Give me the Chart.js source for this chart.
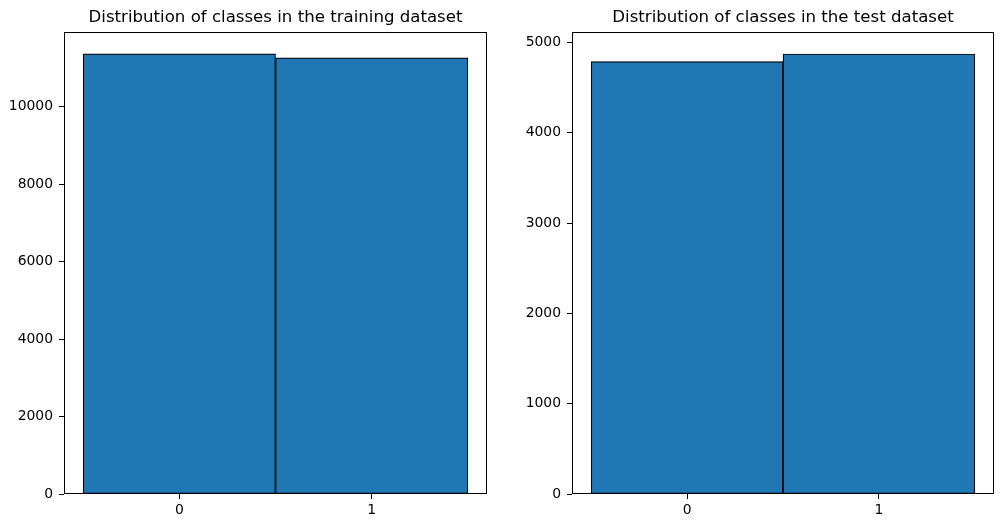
<!DOCTYPE html>
<html>
<head>
<meta charset="utf-8">
<script src="https://cdn.jsdelivr.net/npm/chart.js@4/dist/chart.umd.min.js"></script>
<style>
html,body{margin:0;padding:0;background:#fff;}
#wrap{position:relative;width:1003px;height:528px;}
canvas{position:absolute;top:0;}
</style>
</head>
<body>
<div id="wrap">
<canvas id="c1" width="500" height="528" style="left:0px"></canvas>
<canvas id="c2" width="503" height="528" style="left:500px"></canvas>
</div>
<script>
// Data
const classLabels = [0, 1];
const trainCounts = [11362, 11258];
const testCounts = [4787, 4872];
const trainTicks = [0, 2000, 4000, 6000, 8000, 10000];
const testTicks = [0, 1000, 2000, 3000, 4000, 5000];
const trainTitle = 'Distribution of classes in the training dataset';
const testTitle = 'Distribution of classes in the test dataset';

const FONT = "'DejaVu Sans', sans-serif";

const frame = {
  id: 'frame',
  afterDatasetsDraw(chart) {
    const a = chart.chartArea, ctx = chart.ctx;
    ctx.save();
    ctx.strokeStyle = '#000';
    ctx.lineWidth = 1;
    ctx.strokeRect(Math.round(a.left) + 0.5, Math.round(a.top) + 0.5,
      Math.round(a.right - a.left) - 1, Math.round(a.bottom - a.top) - 1);
    ctx.restore();
  }
};

function makeChart(id, counts, yTicks, yMax, title, yWidth, padRight) {
  return new Chart(document.getElementById(id), {
    type: 'bar',
    data: {
      datasets: [{
        data: classLabels.map((c, i) => ({x: c, y: counts[i]})),
        backgroundColor: '#1f77b4',
        borderColor: '#000',
        borderWidth: 1.2,
        borderSkipped: false,
        barPercentage: 1,
        categoryPercentage: 1
      }]
    },
    options: {
      responsive: false,
      animation: false,
      layout: {padding: {left: 0, right: padRight, top: 0, bottom: 0}},
      plugins: {
        legend: {display: false},
        tooltip: {enabled: false},
        title: {
          display: true,
          text: title,
          fullSize: false,
          color: '#000',
          font: {family: FONT, size: 16.6, weight: 'normal'},
          padding: {top: 8, bottom: 4}
        }
      },
      scales: {
        x: {
          type: 'linear',
          min: -0.6,
          max: 1.6,
          offset: false,
          afterBuildTicks: s => { s.ticks = classLabels.map(v => ({value: v})); },
          afterFit: s => { s.height = 34; },
          grid: {offset: false, drawOnChartArea: false, drawTicks: true, tickLength: 5, color: '#000'},
          border: {display: false},
          ticks: {color: '#000', font: {family: FONT, size: 13.9}, padding: 3, maxRotation: 0}
        },
        y: {
          min: 0,
          max: yMax,
          afterBuildTicks: s => { s.ticks = yTicks.map(v => ({value: v})); },
          afterFit: s => { s.width = yWidth; },
          grid: {drawOnChartArea: false, drawTicks: true, tickLength: 5, color: '#000'},
          border: {display: false},
          ticks: {color: '#000', font: {family: FONT, size: 13.9}, padding: 6,
                  callback: v => String(v)}
        }
      }
    },
    plugins: [frame]
  });
}

makeChart('c1', trainCounts, trainTicks, 11930, trainTitle, 64, 13);
makeChart('c2', testCounts, testTicks, 5116, testTitle, 72, 9);
</script>
</body>
</html>
